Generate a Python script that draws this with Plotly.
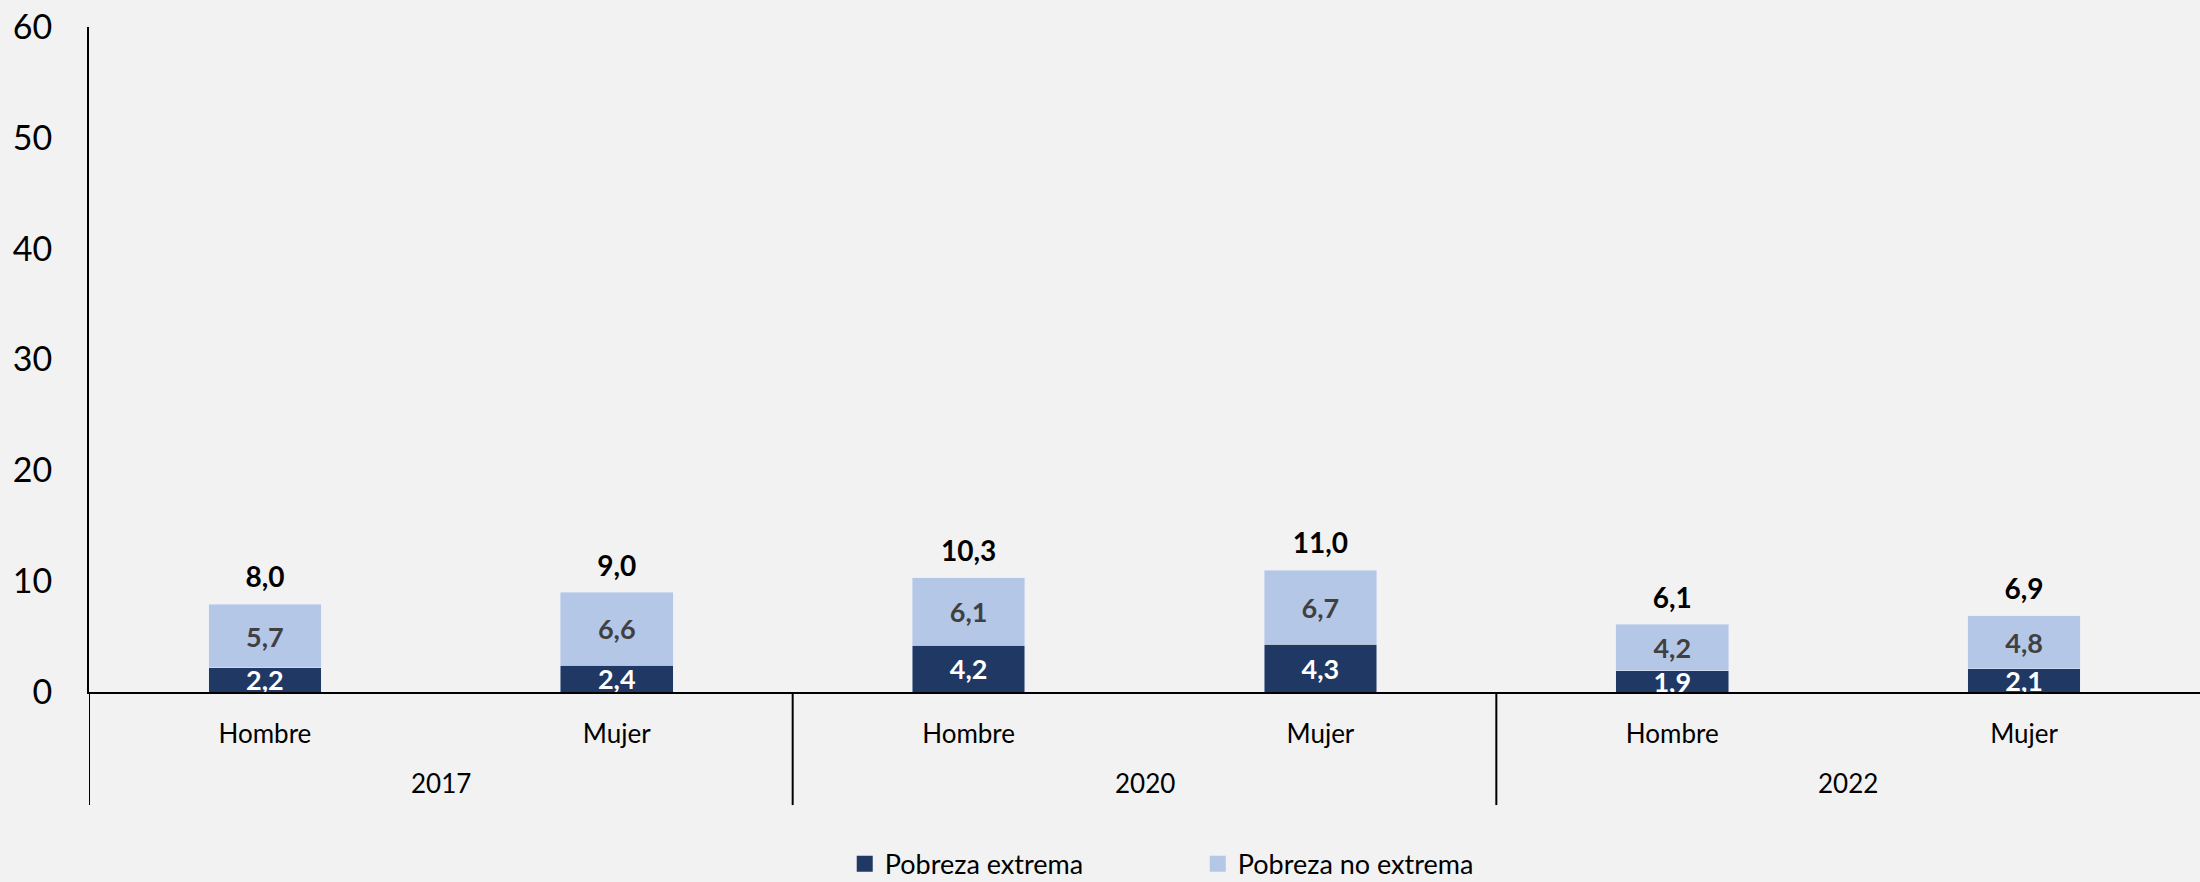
import plotly.graph_objects as go

# Data
years = ["2017", "2017", "2020", "2020", "2022", "2022"]
sexes = ["Hombre", "Mujer", "Hombre", "Mujer", "Hombre", "Mujer"]
pobreza_extrema = [2.2, 2.4, 4.2, 4.3, 1.9, 2.1]
pobreza_no_extrema = [5.7, 6.6, 6.1, 6.7, 4.2, 4.8]
totales = [8.0, 9.0, 10.3, 11.0, 6.1, 6.9]

FONT = "Lato"
DARK = "#1F3864"
LIGHT = "#B4C7E7"
BG = "#F2F2F2"

xpos = list(range(len(sexes)))

fig = go.Figure()

fig.add_trace(go.Bar(
    x=xpos, y=pobreza_extrema, name="Pobreza extrema", width=0.32,
    marker_color=DARK, showlegend=False,
    texttemplate="%{y:.1f}", textposition="inside", insidetextanchor="middle",
    constraintext="none",
    textfont=dict(family=FONT, size=27, color="white", weight="bold"),
    hoverinfo="skip",
))
fig.add_trace(go.Bar(
    x=xpos, y=pobreza_no_extrema, name="Pobreza no extrema", width=0.32,
    marker_color=LIGHT, showlegend=False,
    texttemplate="%{y:.1f}", textposition="inside", insidetextanchor="middle",
    constraintext="none",
    textfont=dict(family=FONT, size=27, color="#404040", weight="bold"),
    hoverinfo="skip",
))

# Totals above each stack
fig.add_trace(go.Scatter(
    x=xpos, y=totales, mode="markers+text",
    marker=dict(size=14, opacity=0),
    texttemplate="%{y:.1f}", textposition="top center",
    textfont=dict(family=FONT, size=28, color="black", weight="bold"),
    showlegend=False, hoverinfo="skip", cliponaxis=False,
))

# legend entries with bigger square swatches
for name, col in [("Pobreza extrema", DARK), ("Pobreza no extrema", LIGHT)]:
    fig.add_trace(go.Scatter(
        x=[None], y=[None], mode="markers", name=name,
        marker=dict(symbol="square", size=17, color=col),
    ))

# year labels and group dividers below the axis
groups = []
for i, yr in enumerate(years):
    if not groups or groups[-1][0] != yr:
        groups.append([yr, i, i])
    else:
        groups[-1][2] = i

for yr, first, last in groups:
    fig.add_annotation(
        x=(xpos[first] + xpos[last]) / 2, y=-0.137, xref="x", yref="paper",
        text=yr, showarrow=False, yanchor="middle",
        font=dict(family=FONT, size=26, color="black"),
    )
    fig.add_shape(
        type="line", xref="x", yref="paper",
        x0=xpos[first] - 0.5, x1=xpos[first] - 0.5, y0=0, y1=-0.17,
        line=dict(color="black", width=2),
    )

fig.update_layout(
    separators=",.",
    barmode="stack",
    width=2200, height=882,
    margin=dict(l=89, r=0, t=27, b=190, autoexpand=False),
    paper_bgcolor=BG,
    plot_bgcolor=BG,
    font=dict(family=FONT, size=26, color="black"),
    legend=dict(
        orientation="h", x=0.358, xanchor="left", y=-0.222, yanchor="top",
        font=dict(family=FONT, size=27), entrywidth=308,
        traceorder="normal", bgcolor="rgba(0,0,0,0)",
    ),
)

fig.update_xaxes(
    range=[-0.5, len(sexes) - 0.5],
    tickvals=xpos, ticktext=sexes,
    showline=True, linecolor="black", linewidth=2,
    ticks="", ticklabelstandoff=18,
    tickfont=dict(family=FONT, size=26, color="black"),
    showgrid=False, zeroline=False,
)
fig.update_yaxes(
    range=[0, 60], dtick=10,
    showline=True, linecolor="black", linewidth=2,
    showgrid=False, zeroline=False,
    tickfont=dict(family=FONT, size=34, color="black"),
    ticks="", ticklabelstandoff=28,
)

fig.write_html(
    "out.html",
    config={"displayModeBar": False},
    post_script="document.body.style.margin='0';document.body.style.overflow='hidden';",
)
